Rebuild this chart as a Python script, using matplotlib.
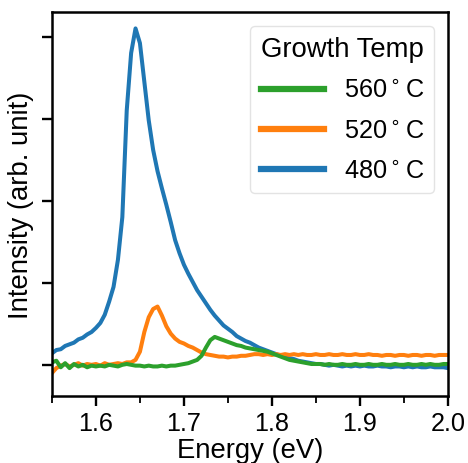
import numpy as np
import matplotlib
matplotlib.use("Agg")
import matplotlib.pyplot as plt
from matplotlib.ticker import MultipleLocator

plt.rcParams['font.family'] = ['Liberation Sans', 'DejaVu Sans']

energy = np.linspace(1.55, 2.0, 91)

temp_480 = [
    0.14, 0.18, 0.19, 0.23, 0.25, 0.27, 0.31, 0.33, 0.37, 0.40,
    0.45, 0.51, 0.61, 0.77, 0.95, 1.28, 1.80, 3.10, 3.80, 4.10,
    3.92, 3.45, 2.98, 2.62, 2.36, 2.15, 1.95, 1.74, 1.52, 1.36,
    1.22, 1.11, 1.01, 0.91, 0.83, 0.75, 0.67, 0.60, 0.54, 0.48,
    0.44, 0.40, 0.35, 0.32, 0.29, 0.27, 0.24, 0.21, 0.19, 0.17,
    0.15, 0.13, 0.11, 0.10, 0.08, 0.07, 0.05, 0.04, 0.03, 0.02,
    0.01, 0.01, 0.00, -0.01, 0.00, -0.01, -0.02, -0.01, -0.02, -0.01,
    -0.02, -0.01, -0.02, -0.02, -0.01, -0.02, -0.02, -0.03, -0.02, -0.02,
    -0.03, -0.02, -0.03, -0.02, -0.03, -0.03, -0.02, -0.03, -0.03, -0.03,
    -0.04,
]

temp_520 = [
    -0.10, -0.04, -0.01, 0.01, -0.02, 0.00, 0.02, -0.01, 0.01, 0.00,
    0.01, -0.01, 0.02, 0.00, 0.01, 0.02, 0.01, 0.03, 0.03, 0.06,
    0.16, 0.40, 0.58, 0.68, 0.71, 0.60, 0.47, 0.38, 0.32, 0.28,
    0.26, 0.23, 0.21, 0.18, 0.15, 0.13, 0.12, 0.11, 0.10, 0.10,
    0.09, 0.10, 0.10, 0.11, 0.11, 0.12, 0.13, 0.13, 0.12, 0.13,
    0.12, 0.13, 0.12, 0.13, 0.12, 0.13, 0.12, 0.13, 0.12, 0.12,
    0.13, 0.12, 0.12, 0.13, 0.12, 0.12, 0.13, 0.12, 0.12, 0.13,
    0.12, 0.12, 0.13, 0.12, 0.12, 0.11, 0.12, 0.12, 0.11, 0.12,
    0.12, 0.11, 0.12, 0.12, 0.11, 0.12, 0.12, 0.11, 0.12, 0.12,
    0.12,
]

temp_560 = [
    0.03, 0.05, -0.03, 0.02, -0.04, 0.01, -0.02, 0.00, -0.03, -0.01,
    -0.02, -0.01, -0.02, 0.00, -0.01, -0.02, 0.00, 0.01, 0.00, -0.01,
    -0.01, -0.02, -0.01, -0.02, -0.02, -0.01, -0.02, -0.01, -0.01, 0.00,
    0.01, 0.02, 0.04, 0.06, 0.11, 0.21, 0.30, 0.34, 0.32, 0.30,
    0.28, 0.26, 0.24, 0.23, 0.21, 0.20, 0.19, 0.18, 0.17, 0.16,
    0.14, 0.12, 0.10, 0.08, 0.06, 0.05, 0.04, 0.03, 0.02, 0.01,
    0.01, 0.01, 0.00, 0.01, 0.00, 0.00, 0.01, 0.00, 0.00, 0.01,
    0.00, 0.00, 0.01, 0.00, 0.00, 0.01, 0.00, 0.00, 0.01, 0.00,
    0.00, 0.01, 0.00, 0.00, 0.01, 0.00, 0.01, 0.00, 0.00, 0.01,
    0.01,
]

series = [("480$^\\circ$C", temp_480, "#1f77b4"),
          ("520$^\\circ$C", temp_520, "#ff7f0e"),
          ("560$^\\circ$C", temp_560, "#2ca02c")]

fig = plt.figure(figsize=(4.68, 4.64), dpi=100)
ax = fig.add_axes([0.111, 0.1444, 0.846, 0.8276])

for label, vals, color in series:
    ax.plot(energy, vals, color=color, lw=2.9, label=label)

ax.set_xlim(1.55, 2.0)
ax.set_ylim(-0.38, 4.3)
ax.xaxis.set_major_locator(MultipleLocator(0.1))
ax.xaxis.set_minor_locator(MultipleLocator(0.05))
ax.set_yticks([0, 1, 2, 3, 4])
ax.set_yticklabels([])
ax.tick_params(axis='both', which='major', length=7, width=1.7, labelsize=18.15, pad=4)
ax.tick_params(axis='x', which='minor', length=5, width=1.3)
for s in ax.spines.values():
    s.set_linewidth(1.8)

ax.set_xlabel("Energy (eV)", fontsize=19.8, labelpad=1)
ax.set_ylabel("Intensity (arb. unit)", fontsize=19.8, labelpad=2)

handles, labels = ax.get_legend_handles_labels()
leg = ax.legend(handles[::-1], labels[::-1], title="Growth Temp", loc="upper right",
                fontsize=18.15, title_fontsize=19.8, handlelength=2.5, frameon=True,
                fancybox=True, edgecolor="#dddddd", labelspacing=0.65,
                borderaxespad=0.55)
for ln in leg.get_lines():
    ln.set_linewidth(4.5)

fig.savefig("out.png", dpi=100)
